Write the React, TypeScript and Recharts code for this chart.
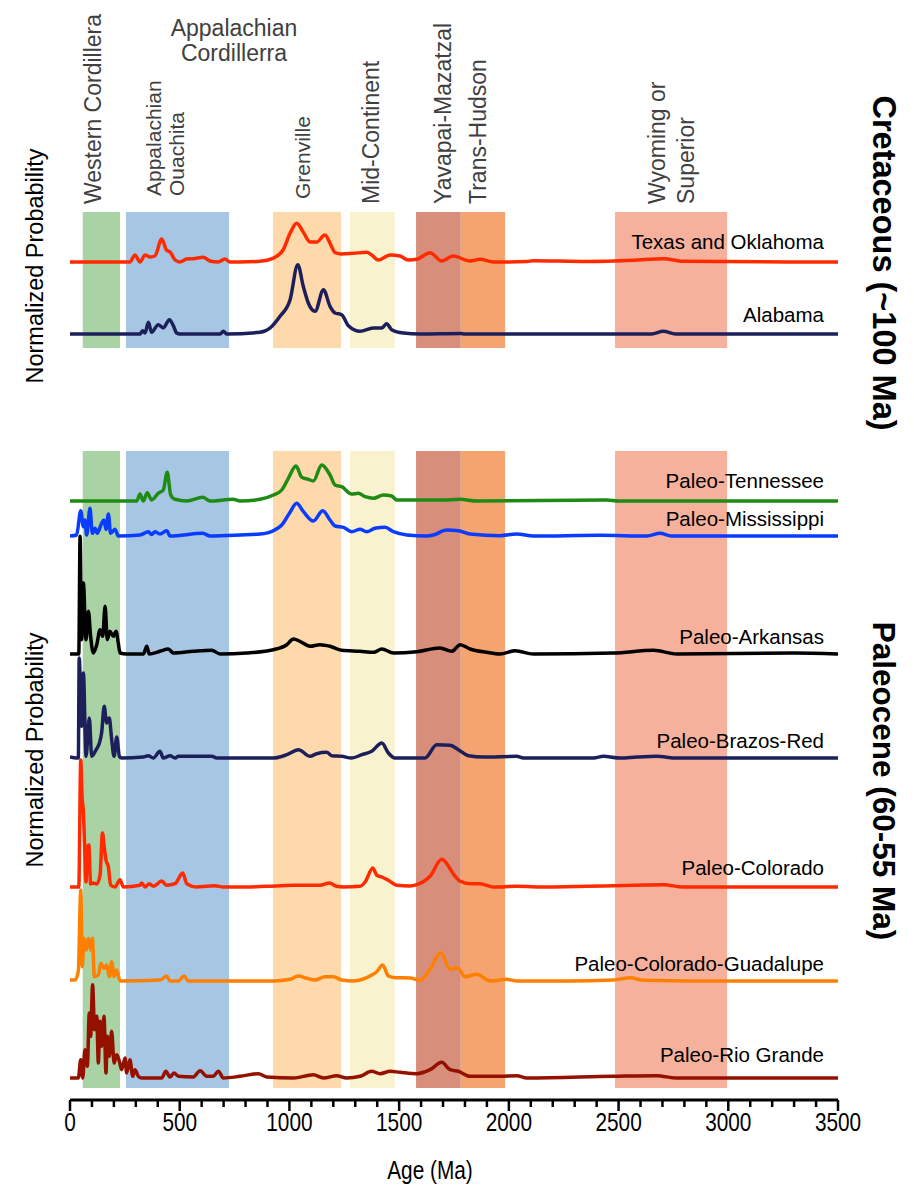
import React from 'react';
import { ComposedChart, Line, XAxis, YAxis, ReferenceArea } from 'recharts';

// ---------- data ----------
const axisTicks = [0, 100, 200, 300, 400, 500, 600, 700, 800, 900, 1000, 1100, 1200, 1300, 1400, 1500, 1600, 1700, 1800, 1900, 2000, 2100, 2200, 2300, 2400, 2500, 2600, 2700, 2800, 2900, 3000, 3100, 3200, 3300, 3400, 3500];
const majorTickLabels = [0, 500, 1000, 1500, 2000, 2500, 3000, 3500];

const provinceNames = ['Western Cordillera', 'Appalachian Ouachita', 'Grenville', 'Mid-Continent', 'Yavapai-Mazatzal', 'Trans-Hudson', 'Wyoming or Superior'];
const provinceFrom = [58, 255, 925, 1276, 1577, 1781, 2484];
const provinceTo = [228, 725, 1235, 1480, 1781, 1983, 2995];

const seriesNames = ['Texas and Oklahoma', 'Alabama', 'Paleo-Tennessee', 'Paleo-Mississippi', 'Paleo-Arkansas', 'Paleo-Brazos-Red', 'Paleo-Colorado', 'Paleo-Colorado-Guadalupe', 'Paleo-Rio Grande'];

const texasOklahoma: [number, number][] = [[0,0],[273,0],[296,7],[319,0],[342,7],[365,5],[387,6],[418,23],[440,12],[456,10],[479,2],[501,0],[532,3],[562,3.3],[607,4.7],[638,1],[675,0],[706,3],[729,0],[775,0],[866,0.7],[925,3.7],[971,12],[1003,28.7],[1033,38.7],[1063,30],[1094,20],[1124,20],[1162,27],[1185,18.7],[1208,9.3],[1238,8],[1290,8.7],[1352,9.7],[1375,7],[1405,2],[1459,7],[1504,6],[1541,2],[1580,2.7],[1641,9.3],[1694,1],[1746,6],[1823,1],[1869,2.7],[1929,0],[2082,0.5],[2111,1.3],[2355,0.5],[2567,1.7],[2704,3.3],[2795,0.7],[3500,0]];
const alabama: [number, number][] = [[0,0],[319,0],[331,3.3],[342,1],[357,11.7],[372,1.7],[402,9.3],[425,6],[453,14.3],[471,8.3],[486,1],[501,0],[684,0],[699,2.7],[714,0],[866,1.7],[912,6],[957,17.7],[1003,34.3],[1038,69.3],[1063,47.7],[1086,31],[1117,22.7],[1155,44.3],[1185,27.7],[1208,21],[1238,19.3],[1269,8.3],[1322,2.7],[1382,6],[1421,6],[1443,10.3],[1466,4.3],[1519,1],[1595,0],[1780,0.5],[1800,0],[2650,0],[2704,2.7],[2760,0],[3500,0]];
const paleoTennessee: [number, number][] = [[0,0],[304,0],[319,7],[334,0],[352,8.3],[372,1],[402,7.7],[425,11],[443,28.7],[459,6],[479,1.7],[532,0],[605,3.7],[638,0],[744,1.7],[775,0],[866,1.7],[927,6],[965,11],[995,22.7],[1030,35],[1056,23.7],[1086,21.7],[1109,20],[1147,36],[1185,26],[1208,16],[1238,14.3],[1284,7],[1314,7.7],[1345,4.3],[1383,2.7],[1428,6],[1466,5],[1489,1],[1700,1],[1778,1.7],[1854,0],[2446,1],[2500,0],[3500,0]];
const paleoMississippi: [number, number][] = [[0,0],[30,1],[49,25.3],[61,9.3],[68,16],[76,1],[91,27.7],[102,2.7],[114,7.7],[124,2.7],[144,12.7],[155,16],[164,6.7],[175,22],[185,2.7],[205,6.7],[220,0],[319,1],[357,4.3],[372,1.5],[387,4.3],[410,2],[441,5.3],[456,0],[605,2.7],[638,0],[775,1],[866,2],[927,5.3],[965,11],[1000,22.7],[1033,32.7],[1064,24.3],[1109,15],[1152,25.3],[1185,16],[1208,10],[1246,8.7],[1284,4.3],[1322,6.7],[1352,4.3],[1390,7.7],[1436,8.7],[1474,4.3],[1535,1],[1626,0],[1656,1],[1717,6],[1770,5.3],[1823,2],[1960,0.3],[2036,2],[2112,0],[2416,0.7],[2629,0],[2689,2.7],[2740,0],[3500,0]];
const paleoArkansas: [number, number][] = [[0,0],[40,0],[46,117.7],[53,14.3],[61,71],[73,14.3],[84,42.7],[94,17.7],[106,1],[122,9.3],[137,24.3],[149,17.7],[160,47.7],[170,14.3],[182,22.7],[197,17.7],[210,22.7],[220,11],[228,1],[258,0],[334,0],[350,7.7],[361,0],[410,2.7],[448,5],[471,1],[562,2.7],[646,3.7],[684,0],[805,1],[927,4.3],[988,9.3],[1018,15],[1048,12.7],[1094,7.7],[1139,9.3],[1185,7.7],[1238,3.7],[1322,2.7],[1383,1.7],[1421,5],[1474,1],[1580,2.3],[1686,6],[1740,2.7],[1778,9.3],[1823,5],[1899,1.7],[1960,0],[2028,3.3],[2112,0],[2477,1],[2659,3.7],[2765,0],[3297,1],[3500,0]];
const paleoBrazosRed: [number, number][] = [[0,1],[30,0],[38,0],[42,100],[53,31.7],[61,85],[73,1.7],[88,40],[99,1.7],[119,8.3],[134,15],[144,25],[156,51.7],[167,35],[179,40],[190,18.3],[201,1.7],[213,21],[225,1.7],[235,0],[334,1],[357,2.3],[380,0],[410,6.7],[425,0],[456,2.3],[479,0],[494,1.7],[646,1.7],[669,0],[927,0],[988,3.3],[1041,8.3],[1094,1.7],[1124,4.3],[1170,5.7],[1193,2.3],[1238,1.7],[1284,0],[1330,3.3],[1375,6.7],[1421,15],[1451,5],[1481,0],[1618,0],[1671,13.3],[1732,12.7],[1770,8.3],[1816,2.3],[1884,1],[2036,1.7],[2066,0],[2386,0],[2431,1.7],[2507,0],[2583,1],[2674,1.7],[2765,0],[3500,0]];
const paleoColorado: [number, number][] = [[0,0],[40,0],[49,127],[55,90],[61,75],[66,45],[73,5],[79,40],[86,42],[94,3],[106,4],[122,3],[137,12],[148,54],[156,40],[164,27],[175,20],[185,2],[205,0],[228,7.3],[243,0],[319,1.7],[327,4],[342,0],[361,3.3],[380,0.7],[418,6],[440,1.7],[479,3.3],[514,14],[532,3.3],[577,0],[623,0.7],[661,1.3],[699,0],[805,0],[896,0.7],[1018,1.7],[1139,1.7],[1182,4],[1215,0.7],[1246,0],[1322,0.7],[1345,5],[1380,19],[1398,11.7],[1421,10],[1451,6.7],[1489,1.7],[1550,1],[1580,2.3],[1641,10.7],[1694,27.7],[1755,10.7],[1778,5.7],[1823,3.3],[1869,3.3],[1929,0],[2036,0.7],[2173,0],[2355,0.7],[2567,1.7],[2704,2.3],[2795,0],[3500,0]];
const paleoColoradoGuadalupe: [number, number][] = [[0,1],[23,1],[38,10],[49,91],[56,14.3],[64,42.7],[73,31],[84,42.7],[94,31],[102,42.7],[111,4.3],[129,6],[141,17.7],[155,12.7],[167,16],[179,4.3],[190,19.3],[201,4.3],[213,11],[228,0],[410,1],[441,5],[456,0],[494,0],[520,5],[539,0],[714,0],[927,0],[1003,1.7],[1041,5],[1079,2.7],[1117,1],[1162,4.3],[1200,4.3],[1238,1],[1291,0],[1337,2],[1375,6],[1398,9.3],[1425,16],[1451,5],[1481,3.3],[1550,3],[1595,0.7],[1641,11.7],[1689,28.3],[1732,11.7],[1765,13.3],[1800,4.3],[1854,6.7],[1914,0],[1990,1.7],[2036,0],[2263,0],[2477,1],[2552,3.3],[2613,0.7],[2841,0],[3500,0]];
const paleoRioGrande: [number, number][] = [[0,0],[38,0],[49,18.3],[58,0],[68,28.3],[79,11.7],[88,65],[94,41.7],[103,93.3],[112,48.3],[122,61.7],[129,15],[137,56.7],[144,31.7],[155,61.7],[164,5],[170,41.7],[179,21.7],[190,46.7],[201,15],[213,23.3],[225,16.7],[235,8.3],[251,20],[258,5],[273,18.3],[286,1.7],[296,8.3],[312,1.5],[327,0],[418,0],[437,6.7],[456,1],[474,5],[494,1.7],[562,1],[593,7.3],[623,1.7],[653,1.7],[676,6.7],[699,0],[775,1.7],[858,4.3],[896,1],[1018,0],[1109,3.3],[1155,0],[1215,2.3],[1261,0],[1322,1.7],[1375,6.7],[1413,4.3],[1459,6.7],[1504,5.7],[1580,4.3],[1641,8.3],[1694,15.7],[1732,8.3],[1770,6.7],[1823,1.7],[1960,1.7],[2036,2.3],[2082,0],[2477,1.7],[2674,2.3],[2765,0],[3500,0]];

const seriesValues = [texasOklahoma, alabama, paleoTennessee, paleoMississippi, paleoArkansas, paleoBrazosRed, paleoColorado, paleoColoradoGuadalupe, paleoRioGrande];

// ---------- layout / style ----------
const W = 914;
const H = 1196;
const seriesOffsets = [838, 766, 599, 564, 446, 342, 213, 119, 22];
const seriesColors = ['#ff2a00', '#1c1f5a', '#1e8c14', '#0a3cff', '#000000', '#1c1f5a', '#ff2a00', '#ff7f00', '#941100'];
const provinceColors = ['#a9d3a5', '#a7c6e4', '#fdd9ac', '#f8f2cf', '#d78f7b', '#f5a470', '#f6b19c'];
const bandRows: [number, number][] = [[752, 888], [12, 649]];
const seriesLabelY = [241, 314, 480, 518, 636, 740, 867, 963, 1054];

const FONT = '"Liberation Sans", Arial, Helvetica, sans-serif';
const CONDENSE = 0.8;

const chartSeries = seriesValues.map((pts, i) =>
  pts.map(([age, h]) => ({ age, v: seriesOffsets[i] + h }))
);

const CondensedText = ({ x, y, size, children }: { x: number; y: number; size: number; children: React.ReactNode }) => (
  <text
    x={0}
    y={0}
    transform={`translate(${x} ${y}) scale(${CONDENSE} 1)`}
    textAnchor="middle"
    dominantBaseline="central"
    fontFamily={FONT}
    fontSize={size}
    fill="#000"
  >
    {children}
  </text>
);

const AxisTick = (props: any) => {
  const { x, y, payload } = props;
  const v = payload.value as number;
  const major = majorTickLabels.indexOf(v) >= 0;
  return (
    <g>
      <line x1={x} y1={y} x2={x} y2={y + (major ? 11 : 7)} stroke="#000" strokeWidth={2.5} />
      {major && <CondensedText x={x} y={y + 22} size={26}>{v}</CondensedText>}
    </g>
  );
};

const rotLabel = (text: string, x: number, yEnd: number, size: number, key: string) => (
  <text key={key} x={x} y={yEnd} transform={`rotate(-90 ${x} ${yEnd})`} textAnchor="start" dominantBaseline="central" fontFamily={FONT} fontSize={size} fill="#404040">
    {text}
  </text>
);

export default function App() {
  return (
    <div style={{ position: 'absolute', left: 0, top: 0, width: W, height: H, background: '#fff' }}>
      <ComposedChart width={W} height={H} margin={{ top: 200, right: 76, bottom: 66, left: 70 }}>
        <XAxis
          type="number"
          dataKey="age"
          domain={[0, 3500]}
          ticks={axisTicks}
          interval={0}
          tickSize={0}
          tickMargin={0}
          tick={<AxisTick />}
          axisLine={{ stroke: '#000', strokeWidth: 3 }}
          allowDataOverflow
          height={30}
        />
        <YAxis type="number" domain={[0, 900]} hide allowDataOverflow />
        {bandRows.map(([y1, y2], r) =>
          provinceNames.map((name, i) => (
            <ReferenceArea
              key={`band-${r}-${i}`}
              x1={provinceFrom[i]}
              x2={provinceTo[i]}
              y1={y1}
              y2={y2}
              fill={provinceColors[i]}
              fillOpacity={1}
              stroke="none"
              ifOverflow="extendDomain"
            />
          ))
        )}
        {chartSeries.map((data, i) => (
          <Line
            key={seriesNames[i]}
            data={data}
            dataKey="v"
            name={seriesNames[i]}
            type="monotone"
            stroke={seriesColors[i]}
            strokeWidth={3.5}
            strokeLinejoin="round"
            dot={false}
            activeDot={false}
            isAnimationActive={false}
          />
        ))}
      </ComposedChart>
      <svg width={W} height={H} style={{ position: 'absolute', left: 0, top: 0, pointerEvents: 'none' }}>
        {rotLabel('Western Cordillera', 93, 204, 23, 'wc')}
        {rotLabel('Appalachian', 153, 196, 21, 'ap1')}
        {rotLabel('Ouachita', 176, 196, 21, 'ap2')}
        {rotLabel('Grenville', 302, 199, 21, 'gr')}
        {rotLabel('Mid-Continent', 371, 204, 23, 'mc')}
        {rotLabel('Yavapai-Mazatzal', 443, 204, 23, 'ym')}
        {rotLabel('Trans-Hudson', 478, 204, 23, 'th')}
        {rotLabel('Wyoming or', 657, 204, 23, 'wy1')}
        {rotLabel('Superior', 686, 204, 23, 'wy2')}
        <text x={234} y={28} textAnchor="middle" dominantBaseline="central" fontFamily={FONT} fontSize={23} fill="#404040">Appalachian</text>
        <text x={234} y={53} textAnchor="middle" dominantBaseline="central" fontFamily={FONT} fontSize={23} fill="#404040">Cordillerra</text>
        {seriesNames.map((n, i) => (
          <text key={n} x={824} y={seriesLabelY[i]} textAnchor="end" dominantBaseline="central" fontFamily={FONT} fontSize={20.5} fill="#000">{n}</text>
        ))}
        <text x={35} y={266} transform="rotate(-90 35 266)" textAnchor="middle" dominantBaseline="central" fontFamily={FONT} fontSize={23.5} fill="#000">Normalized Probability</text>
        <text x={35} y={750} transform="rotate(-90 35 750)" textAnchor="middle" dominantBaseline="central" fontFamily={FONT} fontSize={23.5} fill="#000">Normalized Probability</text>
        <text x={884} y={263} transform="rotate(90 884 263)" textAnchor="middle" dominantBaseline="central" fontFamily={FONT} fontWeight="bold" fontSize={32.5} fill="#000">Cretaceous (~100 Ma)</text>
        <text x={884} y={781} transform="rotate(90 884 781)" textAnchor="middle" dominantBaseline="central" fontFamily={FONT} fontWeight="bold" fontSize={31.5} fill="#000">Paleocene (60-55 Ma)</text>
        <CondensedText x={430} y={1170} size={26}>Age (Ma)</CondensedText>
      </svg>
    </div>
  );
}
